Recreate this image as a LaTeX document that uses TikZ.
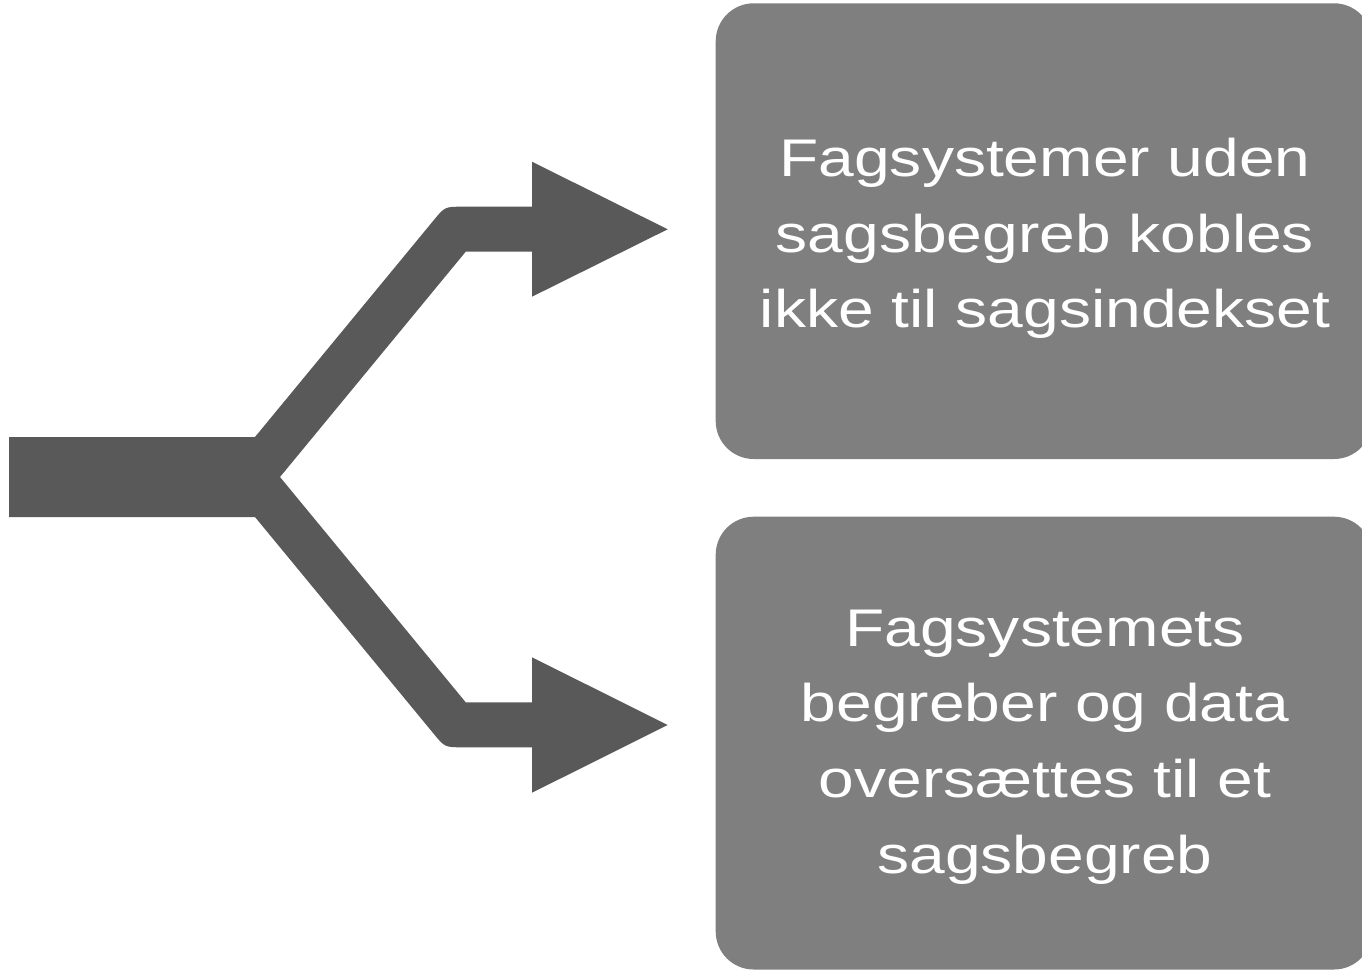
\documentclass[tikz,border=0pt]{standalone}
\usepackage{fontspec}
\setmainfont{Liberation Sans}
\newfontfamily\widefont[FakeStretch=1.21]{Liberation Sans}
\definecolor{arrowgray}{HTML}{595959}
\definecolor{boxgray}{HTML}{7F7F7F}
\begin{document}
\begin{tikzpicture}[x=1pt,y=-1pt,
  boxfill/.style={fill=boxgray,rounded corners=38pt},
  arrowfill/.style={fill=arrowgray},
  boxtext/.style={text=white,align=center,inner sep=0pt,
    font=\widefont\fontsize{53}{75.7}\selectfont}]
\useasboundingbox (0,0) rectangle (1362,970);
\begin{scope}
\clip (0,0) rectangle (1362,970);
\fill[boxfill] (715.7,3.3) rectangle (1372,459);
\fill[boxfill] (715.7,516.7) rectangle (1372,969.5);
\end{scope}
% split arrow
\fill[arrowfill] (9,437) -- (255,437) -- (433.4,220.6) .. controls (444.8,206.7) .. (462.8,206.7)
  -- (532,206.7) -- (532,161.7) -- (667.7,229.3) -- (532,296.7) -- (532,251.7)
  -- (465.7,251.7) -- (280,477) -- (465.7,702.3) -- (532,702.3) -- (532,657.3)
  -- (667.7,725) -- (532,792.7) -- (532,747.3) -- (462.8,747.3)
  .. controls (444.8,747.3) .. (433.4,733.4) -- (255,517) -- (9,517) -- cycle;
\node[boxtext] (t1) at (1045,238.5) {Fagsystemer uden\\sagsbegreb kobles\\ikke til sagsindekset};
\node[boxtext] (t2) at (1045,747) {Fagsystemets\\begreber og data\\overs\ae ttes til et\\sagsbegreb};
\end{tikzpicture}
\end{document}
